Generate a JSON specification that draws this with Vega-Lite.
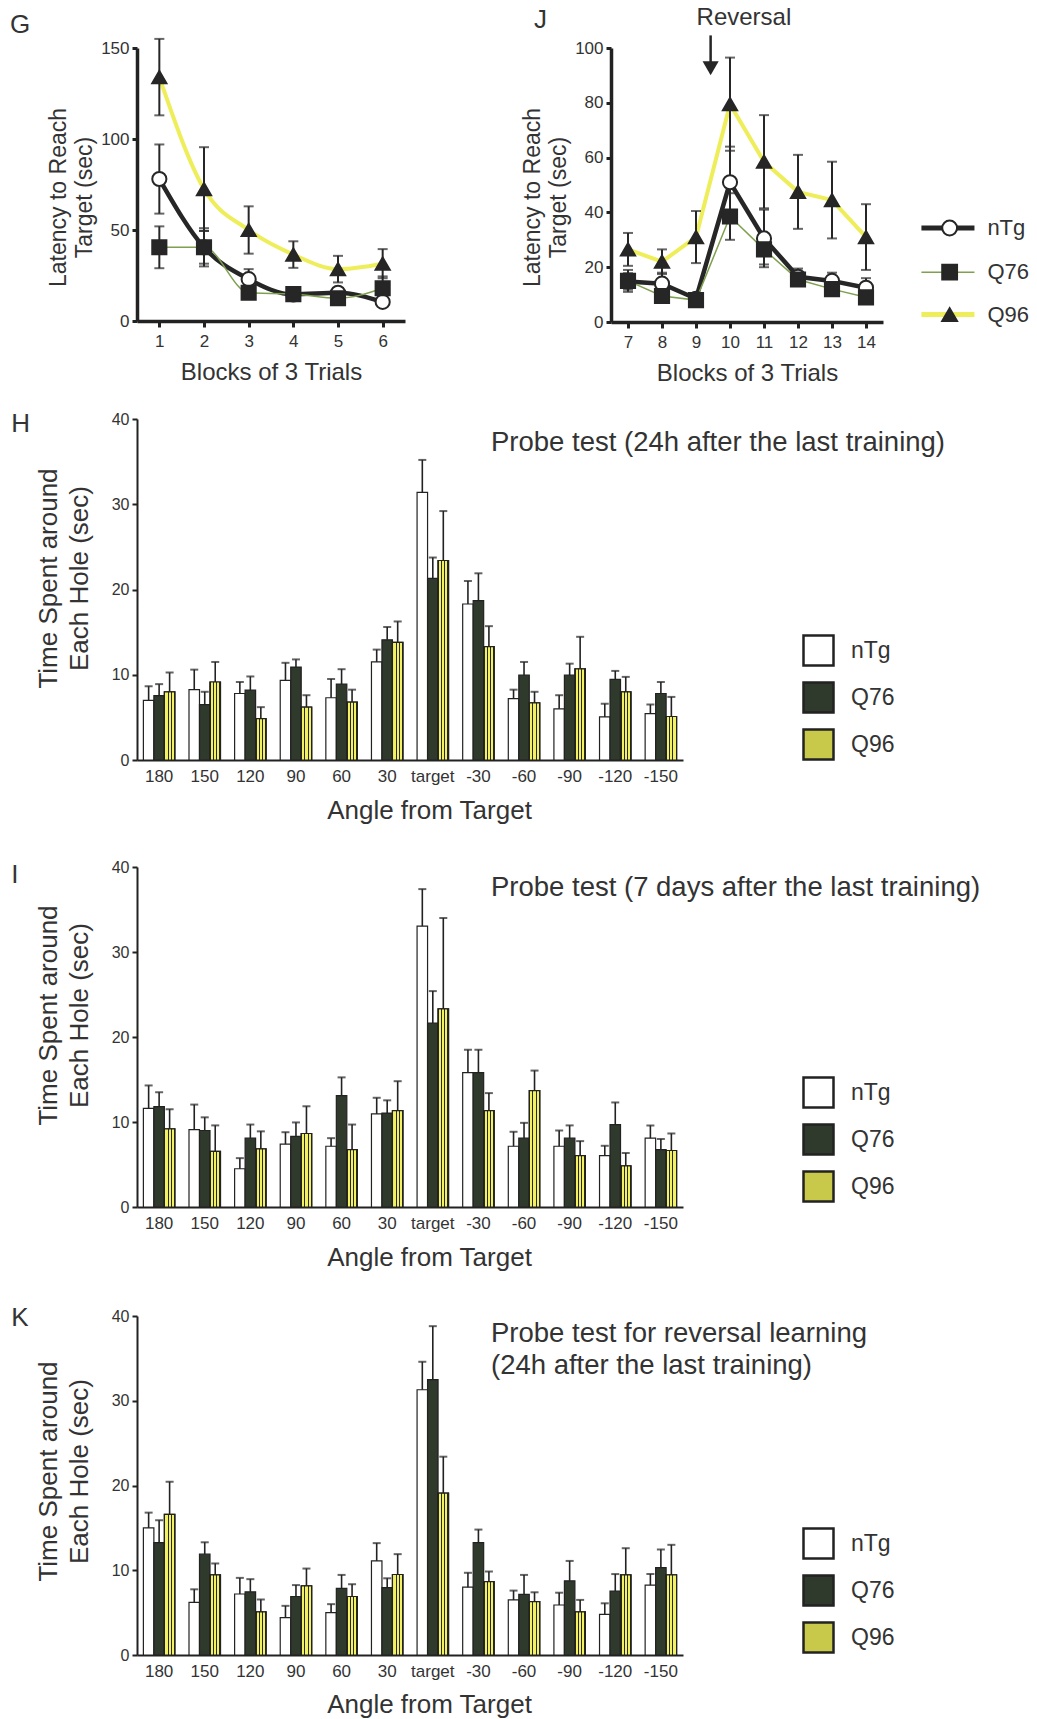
{
"$schema": "https://vega.github.io/schema/vega-lite/v6.json",
"background": "white",
"padding": {"left": 10, "top": 6, "right": 10, "bottom": 10},
"config": {
  "font": "Liberation Sans",
  "view": {"stroke": null},
  "axis": {"grid": false, "labelOverlap": false, "domainColor": "#222", "tickColor": "#222", "labelColor": "#333", "titleColor": "#333", "titleFontWeight": "normal", "labelFont": "Liberation Sans", "titleFont": "Liberation Sans"},
  "title": {"color": "#333", "fontWeight": "normal", "font": "Liberation Sans"}
},
"datasets": {
  "g": [
    {"block":1,"group":"nTg","mean":78,"lo":59,"hi":97},
    {"block":2,"group":"nTg","mean":40.5,"lo":31.5,"hi":49.5},
    {"block":3,"group":"nTg","mean":23,"lo":17.5,"hi":28.5},
    {"block":4,"group":"nTg","mean":14.6,"lo":12.6,"hi":16.6},
    {"block":5,"group":"nTg","mean":15.5,"lo":13.5,"hi":17.5},
    {"block":6,"group":"nTg","mean":10.5,"lo":8.5,"hi":12.5},
    {"block":1,"group":"Q76","mean":40.5,"lo":29,"hi":52},
    {"block":2,"group":"Q76","mean":40.5,"lo":30,"hi":51},
    {"block":3,"group":"Q76","mean":15.5,"lo":13.5,"hi":17.5},
    {"block":4,"group":"Q76","mean":14.8,"lo":12.8,"hi":16.8},
    {"block":5,"group":"Q76","mean":12.5,"lo":10.5,"hi":14.5},
    {"block":6,"group":"Q76","mean":18,"lo":11.5,"hi":24.5},
    {"block":1,"group":"Q96","mean":134,"lo":113,"hi":155},
    {"block":2,"group":"Q96","mean":72.5,"lo":49.5,"hi":95.5},
    {"block":3,"group":"Q96","mean":50,"lo":37,"hi":63},
    {"block":4,"group":"Q96","mean":36.5,"lo":29.2,"hi":43.8},
    {"block":5,"group":"Q96","mean":28.5,"lo":21.2,"hi":35.8},
    {"block":6,"group":"Q96","mean":31.5,"lo":23.5,"hi":39.5}
  ],
  "j": [
    {"block":7,"group":"nTg","mean":14.8,"lo":11.8,"hi":17.8},
    {"block":8,"group":"nTg","mean":14,"lo":10,"hi":18},
    {"block":9,"group":"nTg","mean":8.5,"lo":7,"hi":10},
    {"block":10,"group":"nTg","mean":51,"lo":38,"hi":64},
    {"block":11,"group":"nTg","mean":30.5,"lo":20,"hi":41},
    {"block":12,"group":"nTg","mean":16.5,"lo":13.5,"hi":19.5},
    {"block":13,"group":"nTg","mean":15,"lo":12,"hi":18},
    {"block":14,"group":"nTg","mean":12.5,"lo":9,"hi":16},
    {"block":7,"group":"Q76","mean":15,"lo":11,"hi":19},
    {"block":8,"group":"Q76","mean":9.5,"lo":7.5,"hi":11.5},
    {"block":9,"group":"Q76","mean":8,"lo":6.5,"hi":9.5},
    {"block":10,"group":"Q76","mean":38.5,"lo":30,"hi":47},
    {"block":11,"group":"Q76","mean":26.5,"lo":21,"hi":32},
    {"block":12,"group":"Q76","mean":15.5,"lo":13.5,"hi":17.5},
    {"block":13,"group":"Q76","mean":12,"lo":10,"hi":14},
    {"block":14,"group":"Q76","mean":9,"lo":7,"hi":11},
    {"block":7,"group":"Q96","mean":26.5,"lo":20.5,"hi":32.5},
    {"block":8,"group":"Q96","mean":22,"lo":17.5,"hi":26.5},
    {"block":9,"group":"Q96","mean":31,"lo":21.5,"hi":40.5},
    {"block":10,"group":"Q96","mean":79.5,"lo":62.5,"hi":96.5},
    {"block":11,"group":"Q96","mean":58.5,"lo":41.5,"hi":75.5},
    {"block":12,"group":"Q96","mean":47.5,"lo":34,"hi":61},
    {"block":13,"group":"Q96","mean":44.5,"lo":30.5,"hi":58.5},
    {"block":14,"group":"Q96","mean":31,"lo":19,"hi":43}
  ],
  "h": [
    {"angle":"180","group":"nTg","mean":7.0,"upper":8.65},{"angle":"180","group":"Q76","mean":7.55,"upper":8.9},{"angle":"180","group":"Q96","mean":8.0,"upper":10.25},
    {"angle":"150","group":"nTg","mean":8.25,"upper":10.6},{"angle":"150","group":"Q76","mean":6.5,"upper":8.0},{"angle":"150","group":"Q96","mean":9.15,"upper":11.5},
    {"angle":"120","group":"nTg","mean":7.8,"upper":9.15},{"angle":"120","group":"Q76","mean":8.2,"upper":9.8},{"angle":"120","group":"Q96","mean":4.85,"upper":6.2},
    {"angle":"90","group":"nTg","mean":9.35,"upper":11.4},{"angle":"90","group":"Q76","mean":10.9,"upper":11.8},{"angle":"90","group":"Q96","mean":6.2,"upper":7.6},
    {"angle":"60","group":"nTg","mean":7.3,"upper":9.5},{"angle":"60","group":"Q76","mean":8.9,"upper":10.65},{"angle":"60","group":"Q96","mean":6.8,"upper":8.25},
    {"angle":"30","group":"nTg","mean":11.5,"upper":12.95},{"angle":"30","group":"Q76","mean":14.1,"upper":15.6},{"angle":"30","group":"Q96","mean":13.8,"upper":16.25},
    {"angle":"target","group":"nTg","mean":31.4,"upper":35.2},{"angle":"target","group":"Q76","mean":21.3,"upper":23.75},{"angle":"target","group":"Q96","mean":23.4,"upper":29.2},
    {"angle":"-30","group":"nTg","mean":18.3,"upper":21.0},{"angle":"-30","group":"Q76","mean":18.7,"upper":21.9},{"angle":"-30","group":"Q96","mean":13.3,"upper":15.7},
    {"angle":"-60","group":"nTg","mean":7.2,"upper":8.25},{"angle":"-60","group":"Q76","mean":9.95,"upper":11.5},{"angle":"-60","group":"Q96","mean":6.7,"upper":8.0},
    {"angle":"-90","group":"nTg","mean":6.0,"upper":7.6},{"angle":"-90","group":"Q76","mean":9.95,"upper":11.3},{"angle":"-90","group":"Q96","mean":10.7,"upper":14.45},
    {"angle":"-120","group":"nTg","mean":5.05,"upper":6.6},{"angle":"-120","group":"Q76","mean":9.45,"upper":10.45},{"angle":"-120","group":"Q96","mean":8.0,"upper":9.75},
    {"angle":"-150","group":"nTg","mean":5.45,"upper":6.5},{"angle":"-150","group":"Q76","mean":7.8,"upper":9.15},{"angle":"-150","group":"Q96","mean":5.1,"upper":7.4}
  ],
  "i": [
    {"angle":"180","group":"nTg","mean":11.6,"upper":14.3},{"angle":"180","group":"Q76","mean":11.8,"upper":13.5},{"angle":"180","group":"Q96","mean":9.2,"upper":11.5},
    {"angle":"150","group":"nTg","mean":9.1,"upper":12.05},{"angle":"150","group":"Q76","mean":9.0,"upper":10.55},{"angle":"150","group":"Q96","mean":6.55,"upper":9.6},
    {"angle":"120","group":"nTg","mean":4.5,"upper":5.75},{"angle":"120","group":"Q76","mean":8.1,"upper":9.7},{"angle":"120","group":"Q96","mean":6.85,"upper":8.9},
    {"angle":"90","group":"nTg","mean":7.4,"upper":8.8},{"angle":"90","group":"Q76","mean":8.3,"upper":9.95},{"angle":"90","group":"Q96","mean":8.65,"upper":11.85},
    {"angle":"60","group":"nTg","mean":7.15,"upper":8.1},{"angle":"60","group":"Q76","mean":13.1,"upper":15.25},{"angle":"60","group":"Q96","mean":6.75,"upper":9.7},
    {"angle":"30","group":"nTg","mean":10.95,"upper":12.85},{"angle":"30","group":"Q76","mean":11.05,"upper":12.55},{"angle":"30","group":"Q96","mean":11.35,"upper":14.8},
    {"angle":"target","group":"nTg","mean":33.05,"upper":37.4},{"angle":"target","group":"Q76","mean":21.65,"upper":25.4},{"angle":"target","group":"Q96","mean":23.3,"upper":34.0},
    {"angle":"-30","group":"nTg","mean":15.8,"upper":18.5},{"angle":"-30","group":"Q76","mean":15.8,"upper":18.5},{"angle":"-30","group":"Q96","mean":11.35,"upper":13.4},
    {"angle":"-60","group":"nTg","mean":7.15,"upper":8.85},{"angle":"-60","group":"Q76","mean":8.1,"upper":9.9},{"angle":"-60","group":"Q96","mean":13.7,"upper":16.05},
    {"angle":"-90","group":"nTg","mean":7.15,"upper":9.0},{"angle":"-90","group":"Q76","mean":8.1,"upper":9.6},{"angle":"-90","group":"Q96","mean":6.05,"upper":7.75},
    {"angle":"-120","group":"nTg","mean":6.05,"upper":7.2},{"angle":"-120","group":"Q76","mean":9.7,"upper":12.3},{"angle":"-120","group":"Q96","mean":4.85,"upper":6.35},
    {"angle":"-150","group":"nTg","mean":8.1,"upper":9.6},{"angle":"-150","group":"Q76","mean":6.75,"upper":8.0},{"angle":"-150","group":"Q96","mean":6.65,"upper":8.65}
  ],
  "k": [
    {"angle":"180","group":"nTg","mean":15.0,"upper":16.8},{"angle":"180","group":"Q76","mean":13.25,"upper":15.9},{"angle":"180","group":"Q96","mean":16.6,"upper":20.45},
    {"angle":"150","group":"nTg","mean":6.2,"upper":7.75},{"angle":"150","group":"Q76","mean":11.9,"upper":13.3},{"angle":"150","group":"Q96","mean":9.45,"upper":10.8},
    {"angle":"120","group":"nTg","mean":7.2,"upper":9.1},{"angle":"120","group":"Q76","mean":7.45,"upper":8.95},{"angle":"120","group":"Q96","mean":5.1,"upper":6.55},
    {"angle":"90","group":"nTg","mean":4.4,"upper":5.8},{"angle":"90","group":"Q76","mean":6.9,"upper":8.25},{"angle":"90","group":"Q96","mean":8.15,"upper":10.2},
    {"angle":"60","group":"nTg","mean":5.0,"upper":6.0},{"angle":"60","group":"Q76","mean":7.85,"upper":9.45},{"angle":"60","group":"Q96","mean":6.9,"upper":8.35},
    {"angle":"30","group":"nTg","mean":11.1,"upper":13.2},{"angle":"30","group":"Q76","mean":7.95,"upper":9.05},{"angle":"30","group":"Q96","mean":9.5,"upper":11.9},
    {"angle":"target","group":"nTg","mean":31.3,"upper":34.6},{"angle":"target","group":"Q76","mean":32.5,"upper":38.8},{"angle":"target","group":"Q96","mean":19.1,"upper":23.4},
    {"angle":"-30","group":"nTg","mean":8.0,"upper":9.7},{"angle":"-30","group":"Q76","mean":13.25,"upper":14.8},{"angle":"-30","group":"Q96","mean":8.65,"upper":9.85},
    {"angle":"-60","group":"nTg","mean":6.5,"upper":7.6},{"angle":"-60","group":"Q76","mean":7.15,"upper":9.45},{"angle":"-60","group":"Q96","mean":6.3,"upper":7.4},
    {"angle":"-90","group":"nTg","mean":5.9,"upper":7.35},{"angle":"-90","group":"Q76","mean":8.75,"upper":11.1},{"angle":"-90","group":"Q96","mean":5.1,"upper":6.5},
    {"angle":"-120","group":"nTg","mean":4.8,"upper":6.1},{"angle":"-120","group":"Q76","mean":7.55,"upper":9.55},{"angle":"-120","group":"Q96","mean":9.45,"upper":12.6},
    {"angle":"-150","group":"nTg","mean":8.25,"upper":9.55},{"angle":"-150","group":"Q76","mean":10.3,"upper":12.45},{"angle":"-150","group":"Q96","mean":9.45,"upper":13.0}
  ]
},
"spacing": 25,
"resolve": {"scale": {"color": "independent"}, "legend": {"color": "independent"}},
"vconcat": [
  {
    "hconcat": [
      {
        "width": 268, "height": 273,
        "title": {"text": "G", "anchor": "start", "frame": "group", "dx": -127, "dy": 4, "fontSize": 26},
        "data": {"name": "g"},
        "encoding": {
          "x": {"field": "block", "type": "quantitative", "scale": {"domain": [0.5, 6.5], "nice": false, "zero": false},
                "axis": {"values": [1,2,3,4,5,6], "format": "d", "title": "Blocks of 3 Trials", "labelFontSize": 17, "titleFontSize": 24, "tickSize": 6, "tickWidth": 3, "domainWidth": 3.5, "labelPadding": 6, "titlePadding": 11}},
          "y": {"field": "mean", "type": "quantitative", "scale": {"domain": [0, 150], "nice": false},
                "axis": {"values": [0,50,100,150], "title": ["Latency to Reach", "Target (sec)"], "titleY": 149, "labelFontSize": 17, "titleFontSize": 23, "titleLineHeight": 26, "tickSize": 5, "tickWidth": 3, "domainWidth": 3.5, "labelPadding": 3, "titlePadding": 4}}
        },
        "layer": [
          {"transform": [{"filter": "datum.group === 'Q96'"}], "mark": {"type": "line", "color": "#eeee5a", "strokeWidth": 4, "interpolate": "monotone"}},
          {"transform": [{"filter": "datum.group === 'nTg'"}], "mark": {"type": "line", "color": "#262626", "strokeWidth": 4.5, "interpolate": "monotone"}},
          {"transform": [{"filter": "datum.group === 'Q76'"}], "mark": {"type": "line", "color": "#7fa050", "strokeWidth": 1.5, "interpolate": "monotone"}},
          {"mark": {"type": "rule", "color": "#262626", "strokeWidth": 2},
           "encoding": {"y": {"field": "lo", "type": "quantitative"}, "y2": {"field": "hi"}}},
          {"mark": {"type": "tick", "orient": "horizontal", "color": "#262626", "thickness": 2, "size": 10},
           "encoding": {"y": {"field": "lo", "type": "quantitative"}}},
          {"mark": {"type": "tick", "orient": "horizontal", "color": "#262626", "thickness": 2, "size": 10},
           "encoding": {"y": {"field": "hi", "type": "quantitative"}}},
          {"mark": {"type": "point", "filled": true, "size": 200, "stroke": "#262626", "strokeWidth": 2, "opacity": 1},
           "encoding": {
             "shape": {"field": "group", "type": "nominal", "scale": {"domain": ["nTg","Q76","Q96"], "range": ["circle","square","triangle-up"]}, "legend": null},
             "fill": {"field": "group", "type": "nominal", "scale": {"domain": ["nTg","Q76","Q96"], "range": ["#ffffff","#262626","#262626"]}, "legend": null}
           }}
        ]
      },
      {
        "width": 272, "height": 274,
        "title": {"text": "J", "anchor": "start", "frame": "group", "dx": -77, "dy": 31, "fontSize": 26},
        "resolve": {"scale": {"y": "independent", "x": "independent"}},
        "layer": [
          {
            "data": {"name": "j"},
            "encoding": {
              "x": {"field": "block", "type": "quantitative", "scale": {"domain": [6.5, 14.5], "nice": false, "zero": false},
                    "axis": {"values": [7,8,9,10,11,12,13,14], "format": "d", "labelOverlap": false, "title": "Blocks of 3 Trials", "labelFontSize": 17, "titleFontSize": 24, "tickSize": 6, "tickWidth": 3, "domainWidth": 3.5, "labelPadding": 6, "titlePadding": 11}},
              "y": {"field": "mean", "type": "quantitative", "scale": {"domain": [0, 100], "nice": false},
                    "axis": {"values": [0,20,40,60,80,100], "title": ["Latency to Reach", "Target (sec)"], "titleY": 149, "labelFontSize": 17, "titleFontSize": 23, "titleLineHeight": 26, "tickSize": 5, "tickWidth": 3, "domainWidth": 3.5, "labelPadding": 3, "titlePadding": 4}}
            },
            "layer": [
              {"transform": [{"filter": "datum.group === 'Q96'"}], "mark": {"type": "line", "color": "#eeee5a", "strokeWidth": 4}},
              {"transform": [{"filter": "datum.group === 'nTg'"}], "mark": {"type": "line", "color": "#262626", "strokeWidth": 4.5}},
              {"transform": [{"filter": "datum.group === 'Q76'"}], "mark": {"type": "line", "color": "#7fa050", "strokeWidth": 1.5}},
              {"mark": {"type": "rule", "color": "#262626", "strokeWidth": 2},
               "encoding": {"y": {"field": "lo", "type": "quantitative"}, "y2": {"field": "hi"}}},
              {"mark": {"type": "tick", "orient": "horizontal", "color": "#262626", "thickness": 2, "size": 10},
               "encoding": {"y": {"field": "lo", "type": "quantitative"}}},
              {"mark": {"type": "tick", "orient": "horizontal", "color": "#262626", "thickness": 2, "size": 10},
               "encoding": {"y": {"field": "hi", "type": "quantitative"}}},
              {"mark": {"type": "point", "filled": true, "size": 200, "stroke": "#262626", "strokeWidth": 2, "opacity": 1},
               "encoding": {
                 "shape": {"field": "group", "type": "nominal", "scale": {"domain": ["nTg","Q76","Q96"], "range": ["circle","square","triangle-up"]}, "legend": null},
                 "fill": {"field": "group", "type": "nominal", "scale": {"domain": ["nTg","Q76","Q96"], "range": ["#ffffff","#262626","#262626"]}, "legend": null}
               }}
            ]
          },
          {
            "data": {"values": [{"label": "Reversal"}]},
            "layer": [
              {"mark": {"type": "text", "fontSize": 24, "color": "#333", "baseline": "middle", "align": "center"},
               "encoding": {"x": {"datum": 10.41, "type": "quantitative", "scale": {"domain": [6.5, 14.5], "nice": false, "zero": false}, "axis": null}, "y": {"datum": 110.8, "type": "quantitative", "scale": {"domain": [0, 100], "nice": false}, "axis": null}, "text": {"field": "label"}}},
              {"mark": {"type": "rule", "color": "#262626", "strokeWidth": 2.5},
               "encoding": {"x": {"datum": 9.43, "type": "quantitative"}, "y": {"datum": 104.6, "type": "quantitative"}, "y2": {"datum": 94}}},
              {"mark": {"type": "point", "shape": "triangle-down", "filled": true, "color": "#262626", "size": 260, "opacity": 1},
               "encoding": {"x": {"datum": 9.43, "type": "quantitative"}, "y": {"datum": 92.6, "type": "quantitative"}}},
              {"data": {"values": [{"group": "nTg"}]},
               "encoding": {"y": {"datum": 34.3, "type": "quantitative"}},
               "layer": [
                 {"mark": {"type": "rule", "color": "#262626", "strokeWidth": 5}, "encoding": {"x": {"datum": 15.63, "type": "quantitative"}, "x2": {"datum": 17.19}}},
                 {"mark": {"type": "point", "shape": "circle", "filled": true, "fill": "#ffffff", "stroke": "#262626", "strokeWidth": 2, "size": 220, "opacity": 1}, "encoding": {"x": {"datum": 16.46, "type": "quantitative"}}},
                 {"mark": {"type": "text", "align": "left", "baseline": "middle", "fontSize": 22, "color": "#333"}, "encoding": {"x": {"datum": 17.57, "type": "quantitative"}, "text": {"field": "group"}}}
               ]},
              {"data": {"values": [{"group": "Q76"}]},
               "encoding": {"y": {"datum": 18.2, "type": "quantitative"}},
               "layer": [
                 {"mark": {"type": "rule", "color": "#7fa050", "strokeWidth": 1.5}, "encoding": {"x": {"datum": 15.63, "type": "quantitative"}, "x2": {"datum": 17.19}}},
                 {"mark": {"type": "point", "shape": "square", "filled": true, "fill": "#262626", "stroke": "#262626", "strokeWidth": 2, "size": 220, "opacity": 1}, "encoding": {"x": {"datum": 16.46, "type": "quantitative"}}},
                 {"mark": {"type": "text", "align": "left", "baseline": "middle", "fontSize": 22, "color": "#333"}, "encoding": {"x": {"datum": 17.57, "type": "quantitative"}, "text": {"field": "group"}}}
               ]},
              {"data": {"values": [{"group": "Q96"}]},
               "encoding": {"y": {"datum": 2.7, "type": "quantitative"}},
               "layer": [
                 {"mark": {"type": "rule", "color": "#eeee5a", "strokeWidth": 5}, "encoding": {"x": {"datum": 15.63, "type": "quantitative"}, "x2": {"datum": 17.19}}},
                 {"mark": {"type": "point", "shape": "triangle-up", "filled": true, "fill": "#262626", "stroke": "#262626", "strokeWidth": 2, "size": 220, "opacity": 1}, "encoding": {"x": {"datum": 16.46, "type": "quantitative"}}},
                 {"mark": {"type": "text", "align": "left", "baseline": "middle", "fontSize": 22, "color": "#333"}, "encoding": {"x": {"datum": 17.57, "type": "quantitative"}, "text": {"field": "group"}}}
               ]}
            ]
          }
        ]
      }
    ],
    "spacing": 116
  },
  {
    "spacing": 35,
    "resolve": {"scale": {"color": "independent"}, "legend": {"color": "independent"}},
    "vconcat": [
      {
        "title": {"text": "H", "anchor": "start", "frame": "group", "dx": -125.7, "dy": 29.5, "fontSize": 26},
        "resolve": {"scale": {"color": "independent"}, "legend": {"color": "independent"}},
        "hconcat": [
          {
            "width": 546, "height": 341,
            "title": {"text": "Probe test (24h after the last training)", "anchor": "start", "frame": "group", "dx": 354, "dy": 49.5, "fontSize": 27.5},
            "data": {"name": "h"},
            "encoding": {
              "x": {"field": "angle", "type": "nominal", "sort": ["180","150","120","90","60","30","target","-30","-60","-90","-120","-150"], "scale": {"paddingInner": 0.31, "paddingOuter": 0.14},
                    "axis": {"title": "Angle from Target", "titleX": 292, "titleFontSize": 26, "titlePadding": 13.5, "labelFontSize": 17, "labelFont": "Liberation Sans Narrow, Liberation Sans", "labelPadding": 8, "ticks": false, "domainWidth": 2, "labelAngle": 0}},
              "xOffset": {"field": "group", "type": "nominal", "scale": {"domain": ["nTg","Q76","Q96"], "paddingInner": 0, "paddingOuter": 0}},
              "y": {"field": "mean", "type": "quantitative", "scale": {"domain": [0, 40], "nice": false},
                    "axis": {"title": ["Time Spent around", "Each Hole (sec)"], "titleY": 159, "values": [0,10,20,30,40], "titleFontSize": 26, "titleLineHeight": 31, "titlePadding": 19, "labelFontSize": 16, "labelFont": "Liberation Sans Narrow, Liberation Sans", "tickSize": 5, "tickWidth": 2, "domainWidth": 2, "labelPadding": 3}}
            },
            "layer": [
              {"mark": {"type": "bar", "stroke": "#222", "strokeWidth": 1.2},
               "encoding": {"color": {"field": "group", "type": "nominal", "scale": {"domain": ["nTg","Q76","Q96"], "range": ["#ffffff","#2f392c","#c8c84a"]},
                 "legend": {"orient": "none", "legendX": 665, "legendY": 215, "title": null, "symbolType": "square", "symbolSize": 900, "symbolStrokeColor": "#222", "symbolStrokeWidth": 2.5, "labelFontSize": 23, "labelOffset": 16, "rowPadding": 6, "labelColor": "#333"}}}},
              {"transform": [{"filter": "datum.group === 'Q96'"}],
               "mark": {"type": "bar", "stroke": "#222", "strokeWidth": 1.2, "fill": {"gradient": "linear", "x1": 0, "y1": 0, "x2": 1, "y2": 0, "stops": [{"offset": 0, "color": "#2a2a1a"}, {"offset": 0.1, "color": "#2a2a1a"}, {"offset": 0.1, "color": "#f2f166"}, {"offset": 0.3, "color": "#f2f166"}, {"offset": 0.3, "color": "#2a2a1a"}, {"offset": 0.4, "color": "#2a2a1a"}, {"offset": 0.4, "color": "#f2f166"}, {"offset": 0.6, "color": "#f2f166"}, {"offset": 0.6, "color": "#2a2a1a"}, {"offset": 0.7, "color": "#2a2a1a"}, {"offset": 0.7, "color": "#f2f166"}, {"offset": 0.9, "color": "#f2f166"}, {"offset": 0.9, "color": "#2a2a1a"}, {"offset": 1, "color": "#2a2a1a"}]}}},
              {"mark": {"type": "rule", "color": "#222", "strokeWidth": 1.6},
               "encoding": {"y2": {"field": "upper"}}},
              {"mark": {"type": "tick", "orient": "horizontal", "color": "#222", "thickness": 2, "size": 8},
               "encoding": {"y": {"field": "upper", "type": "quantitative"}}}
            ]
          }
        ]
      },
      {
        "title": {"text": "I", "anchor": "start", "frame": "group", "dx": -125.7, "dy": 33, "fontSize": 26},
        "resolve": {"scale": {"color": "independent"}, "legend": {"color": "independent"}},
        "hconcat": [
          {
            "width": 546, "height": 340,
            "title": {"text": "Probe test (7 days after the last training)", "anchor": "start", "frame": "group", "dx": 354, "dy": 46, "fontSize": 27.5},
            "data": {"name": "i"},
            "encoding": {
              "x": {"field": "angle", "type": "nominal", "sort": ["180","150","120","90","60","30","target","-30","-60","-90","-120","-150"], "scale": {"paddingInner": 0.31, "paddingOuter": 0.14},
                    "axis": {"title": "Angle from Target", "titleX": 292, "titleFontSize": 26, "titlePadding": 13, "labelFontSize": 17, "labelFont": "Liberation Sans Narrow, Liberation Sans", "labelPadding": 8, "ticks": false, "domainWidth": 2, "labelAngle": 0}},
              "xOffset": {"field": "group", "type": "nominal", "scale": {"domain": ["nTg","Q76","Q96"], "paddingInner": 0, "paddingOuter": 0}},
              "y": {"field": "mean", "type": "quantitative", "scale": {"domain": [0, 40], "nice": false},
                    "axis": {"title": ["Time Spent around", "Each Hole (sec)"], "titleY": 148, "values": [0,10,20,30,40], "titleFontSize": 26, "titleLineHeight": 31, "titlePadding": 19, "labelFontSize": 16, "labelFont": "Liberation Sans Narrow, Liberation Sans", "tickSize": 5, "tickWidth": 2, "domainWidth": 2, "labelPadding": 3}}
            },
            "layer": [
              {"mark": {"type": "bar", "stroke": "#222", "strokeWidth": 1.2},
               "encoding": {"color": {"field": "group", "type": "nominal", "scale": {"domain": ["nTg","Q76","Q96"], "range": ["#ffffff","#2f392c","#c8c84a"]},
                 "legend": {"orient": "none", "legendX": 665, "legendY": 209, "title": null, "symbolType": "square", "symbolSize": 900, "symbolStrokeColor": "#222", "symbolStrokeWidth": 2.5, "labelFontSize": 23, "labelOffset": 16, "rowPadding": 6, "labelColor": "#333"}}}},
              {"transform": [{"filter": "datum.group === 'Q96'"}],
               "mark": {"type": "bar", "stroke": "#222", "strokeWidth": 1.2, "fill": {"gradient": "linear", "x1": 0, "y1": 0, "x2": 1, "y2": 0, "stops": [{"offset": 0, "color": "#2a2a1a"}, {"offset": 0.1, "color": "#2a2a1a"}, {"offset": 0.1, "color": "#f2f166"}, {"offset": 0.3, "color": "#f2f166"}, {"offset": 0.3, "color": "#2a2a1a"}, {"offset": 0.4, "color": "#2a2a1a"}, {"offset": 0.4, "color": "#f2f166"}, {"offset": 0.6, "color": "#f2f166"}, {"offset": 0.6, "color": "#2a2a1a"}, {"offset": 0.7, "color": "#2a2a1a"}, {"offset": 0.7, "color": "#f2f166"}, {"offset": 0.9, "color": "#f2f166"}, {"offset": 0.9, "color": "#2a2a1a"}, {"offset": 1, "color": "#2a2a1a"}]}}},
              {"mark": {"type": "rule", "color": "#222", "strokeWidth": 1.6},
               "encoding": {"y2": {"field": "upper"}}},
              {"mark": {"type": "tick", "orient": "horizontal", "color": "#222", "thickness": 2, "size": 8},
               "encoding": {"y": {"field": "upper", "type": "quantitative"}}}
            ]
          }
        ]
      },
      {
        "title": {"text": "K", "anchor": "start", "frame": "group", "dx": -125.7, "dy": 27, "fontSize": 26},
        "resolve": {"scale": {"color": "independent"}, "legend": {"color": "independent"}},
        "hconcat": [
          {
            "width": 546, "height": 339,
            "title": {"text": ["Probe test for reversal learning", "(24h after the last training)"], "lineHeight": 32, "anchor": "start", "frame": "group", "dx": 354, "dy": 75, "fontSize": 27.5},
            "data": {"name": "k"},
            "encoding": {
              "x": {"field": "angle", "type": "nominal", "sort": ["180","150","120","90","60","30","target","-30","-60","-90","-120","-150"], "scale": {"paddingInner": 0.31, "paddingOuter": 0.14},
                    "axis": {"title": "Angle from Target", "titleX": 292, "titleFontSize": 26, "titlePadding": 12, "labelFontSize": 17, "labelFont": "Liberation Sans Narrow, Liberation Sans", "labelPadding": 8, "ticks": false, "domainWidth": 2, "labelAngle": 0}},
              "xOffset": {"field": "group", "type": "nominal", "scale": {"domain": ["nTg","Q76","Q96"], "paddingInner": 0, "paddingOuter": 0}},
              "y": {"field": "mean", "type": "quantitative", "scale": {"domain": [0, 40], "nice": false},
                    "axis": {"title": ["Time Spent around", "Each Hole (sec)"], "titleY": 155, "values": [0,10,20,30,40], "titleFontSize": 26, "titleLineHeight": 31, "titlePadding": 19, "labelFontSize": 16, "labelFont": "Liberation Sans Narrow, Liberation Sans", "tickSize": 5, "tickWidth": 2, "domainWidth": 2, "labelPadding": 3}}
            },
            "layer": [
              {"mark": {"type": "bar", "stroke": "#222", "strokeWidth": 1.2},
               "encoding": {"color": {"field": "group", "type": "nominal", "scale": {"domain": ["nTg","Q76","Q96"], "range": ["#ffffff","#2f392c","#c8c84a"]},
                 "legend": {"orient": "none", "legendX": 665, "legendY": 211, "title": null, "symbolType": "square", "symbolSize": 900, "symbolStrokeColor": "#222", "symbolStrokeWidth": 2.5, "labelFontSize": 23, "labelOffset": 16, "rowPadding": 6, "labelColor": "#333"}}}},
              {"transform": [{"filter": "datum.group === 'Q96'"}],
               "mark": {"type": "bar", "stroke": "#222", "strokeWidth": 1.2, "fill": {"gradient": "linear", "x1": 0, "y1": 0, "x2": 1, "y2": 0, "stops": [{"offset": 0, "color": "#2a2a1a"}, {"offset": 0.1, "color": "#2a2a1a"}, {"offset": 0.1, "color": "#f2f166"}, {"offset": 0.3, "color": "#f2f166"}, {"offset": 0.3, "color": "#2a2a1a"}, {"offset": 0.4, "color": "#2a2a1a"}, {"offset": 0.4, "color": "#f2f166"}, {"offset": 0.6, "color": "#f2f166"}, {"offset": 0.6, "color": "#2a2a1a"}, {"offset": 0.7, "color": "#2a2a1a"}, {"offset": 0.7, "color": "#f2f166"}, {"offset": 0.9, "color": "#f2f166"}, {"offset": 0.9, "color": "#2a2a1a"}, {"offset": 1, "color": "#2a2a1a"}]}}},
              {"mark": {"type": "rule", "color": "#222", "strokeWidth": 1.6},
               "encoding": {"y2": {"field": "upper"}}},
              {"mark": {"type": "tick", "orient": "horizontal", "color": "#222", "thickness": 2, "size": 8},
               "encoding": {"y": {"field": "upper", "type": "quantitative"}}}
            ]
          }
        ]
      }
    ]
  }
]
}
